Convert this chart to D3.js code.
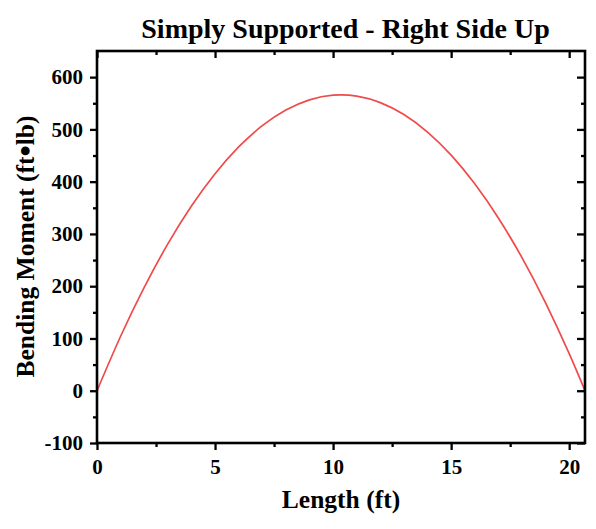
<!DOCTYPE html>
<html>
<head>
<meta charset="utf-8">
<script src="https://cdn.jsdelivr.net/npm/d3@7"></script>
<style>
  html, body { margin: 0; padding: 0; background: #fff; }
  svg { display: block; }
  text { font-family: "Liberation Serif", "Times New Roman", serif; font-weight: bold; fill: #000; }
</style>
</head>
<body>
<svg id="chart" width="596" height="529"></svg>
<script>
// Bending moment along the beam (ft, ft·lb)
const lengthFt = [0, 1, 2, 3, 4, 5, 6, 7, 8, 9, 10, 11, 12, 13, 14, 15, 16, 17, 18, 19, 20, 20.67];
const momentFtLb = [0, 104.2, 197.9, 280.9, 353.3, 415.2, 466.4, 507.1, 537.1, 556.6, 565.4, 563.7, 551.3, 528.4, 494.8, 450.7, 395.9, 330.6, 254.7, 168.1, 71.0, 0];

const xTicks = [0, 5, 10, 15, 20];
const yTicks = [-100, 0, 100, 200, 300, 400, 500, 600];
const xMinorTicks = [2.5, 7.5, 12.5, 17.5];
const yMinorTicks = [-50, 50, 150, 250, 350, 450, 550];

const titleText = "Simply Supported - Right Side Up";
const xLabel = "Length (ft)";
const yLabelParts = ["Bending Moment (ft", "\u2022", "lb)"];

const svg = d3.select("#chart");
const plotL = 97, plotR = 585, plotT = 51, plotB = 443;

const x = d3.scaleLinear().domain([0, 20.67]).range([plotL, plotR]);
const y = d3.scaleLinear().domain([-100, 650]).range([plotB, plotT]);

// Curve
const line = d3.line()
  .x((d, i) => x(lengthFt[i]))
  .y(d => y(d))
  .curve(d3.curveNatural);

svg.append("path")
  .datum(momentFtLb)
  .attr("d", line)
  .attr("fill", "none")
  .attr("stroke", "#f04a4a")
  .attr("stroke-width", 1.7);

// Axes: outward ticks on bottom/left, inward mirrored ticks on top/right
function styleAxis(g) {
  g.selectAll(".domain").remove();
  g.selectAll(".tick line").attr("stroke", "#000").attr("stroke-width", 2.3);
}
const plainNumber = d => String(d);

const gBottom = svg.append("g").attr("transform", `translate(0,${plotB})`)
  .call(d3.axisBottom(x).tickValues(xTicks).tickSize(7).tickPadding(9).tickFormat(plainNumber));
styleAxis(gBottom);
gBottom.selectAll(".tick text").attr("font-size", 21).attr("font-family", "Liberation Serif").attr("font-weight", "bold");
svg.append("g").attr("transform", `translate(0,${plotB})`)
  .call(d3.axisBottom(x).tickValues(xMinorTicks).tickSize(4).tickFormat(""))
  .call(styleAxis);

const gLeft = svg.append("g").attr("transform", `translate(${plotL},0)`)
  .call(d3.axisLeft(y).tickValues(yTicks).tickSize(7).tickPadding(7).tickFormat(plainNumber));
styleAxis(gLeft);
gLeft.selectAll(".tick text").attr("font-size", 21).attr("font-family", "Liberation Serif").attr("font-weight", "bold");
svg.append("g").attr("transform", `translate(${plotL},0)`)
  .call(d3.axisLeft(y).tickValues(yMinorTicks).tickSize(4).tickFormat(""))
  .call(styleAxis);

svg.append("g").attr("transform", `translate(0,${plotT})`)
  .call(d3.axisBottom(x).tickValues(xTicks).tickSize(7).tickFormat(""))
  .call(styleAxis);
svg.append("g").attr("transform", `translate(0,${plotT})`)
  .call(d3.axisBottom(x).tickValues(xMinorTicks).tickSize(4).tickFormat(""))
  .call(styleAxis);
svg.append("g").attr("transform", `translate(${plotR},0)`)
  .call(d3.axisLeft(y).tickValues(yTicks).tickSize(8).tickFormat(""))
  .call(styleAxis);
svg.append("g").attr("transform", `translate(${plotR},0)`)
  .call(d3.axisLeft(y).tickValues(yMinorTicks).tickSize(4).tickFormat(""))
  .call(styleAxis);

// Frame
svg.append("rect")
  .attr("x", plotL).attr("y", plotT)
  .attr("width", plotR - plotL).attr("height", plotB - plotT)
  .attr("fill", "none").attr("stroke", "#000").attr("stroke-width", 2.6);

// Titles
svg.append("text")
  .attr("x", 345.5).attr("y", 38)
  .attr("text-anchor", "middle").attr("font-size", 28)
  .text(titleText);

svg.append("text")
  .attr("x", 341).attr("y", 508)
  .attr("text-anchor", "middle").attr("font-size", 25.5)
  .text(xLabel);

const yTitle = svg.append("text")
  .attr("transform", `translate(34,246.5) rotate(-90)`)
  .attr("text-anchor", "middle").attr("font-size", 25.5);
yTitle.append("tspan").text(yLabelParts[0]);
yTitle.append("tspan").attr("font-size", 32).attr("dy", 2).text(yLabelParts[1]);
yTitle.append("tspan").attr("dy", -2).text(yLabelParts[2]);
</script>
</body>
</html>
